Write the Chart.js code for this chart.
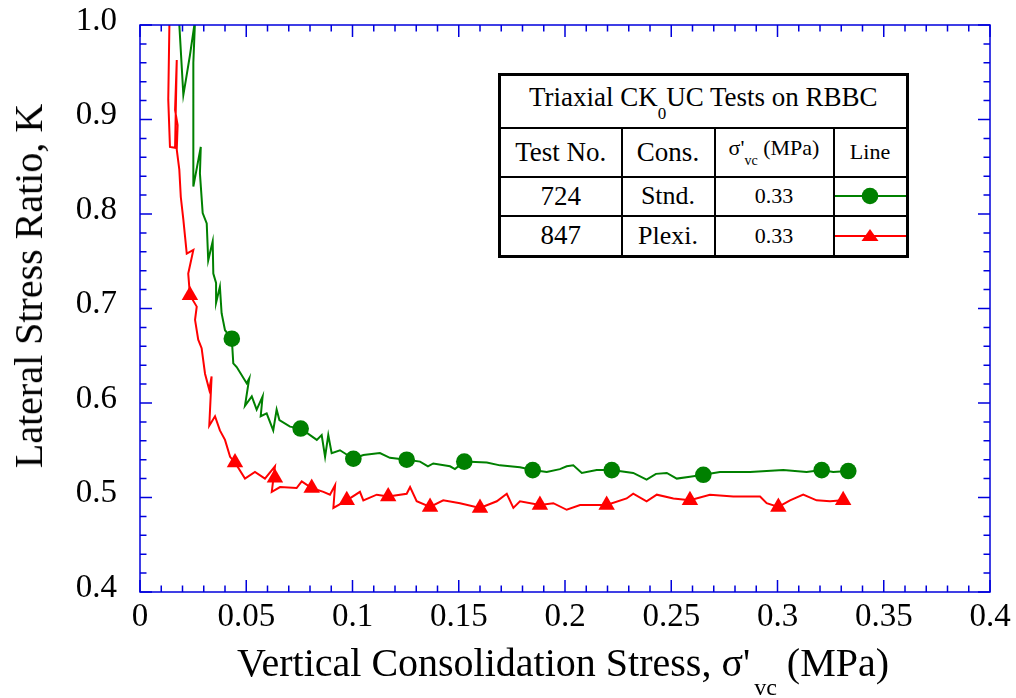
<!DOCTYPE html>
<html lang="en">
<head>
  <meta charset="UTF-8">
  <title>Lateral Stress Ratio vs Vertical Consolidation Stress</title>
  <script src="https://cdn.jsdelivr.net/npm/chart.js"></script>
  <style>
    body { margin: 0; background: #fff; }
    #wrap { position: relative; width: 1016px; height: 698px; background: #fff; font-family: "Liberation Serif", "Times New Roman", serif; color: #000; }
    #chart { position: absolute; left: 0; top: 0; }
    #ytitle { position: absolute; left: 29px; top: 286px; font-size: 40px; line-height: 40px; white-space: nowrap;
              transform: translate(-50%, -50%) rotate(-90deg); }
    #xtitle { position: absolute; left: 237px; top: 643px; font-size: 40px; line-height: 40px; white-space: nowrap; }
    #xtitle .sub { font-size: 24px; position: relative; top: 19px; margin-left: 4px; }
    #legendTable { position: absolute; left: 498px; top: 73px; border-collapse: collapse; table-layout: fixed;
                   background: #fff; border: 3px solid #000; font-family: "Liberation Serif", "Times New Roman", serif; }
    #legendTable td { border: 2px solid #000; padding: 0; text-align: center; vertical-align: middle; white-space: nowrap; line-height: 1;
                      font-family: "Liberation Serif", "Times New Roman", serif; }
    .big { font-size: 27px; }
    .mid { font-size: 26px; }
    .sm { font-size: 22px; }
    .lo0 { font-size: 17px; position: relative; top: 13px; }
    .lovc { font-size: 14px; position: relative; top: 10px; }
  </style>
</head>
<body>
<div id="wrap">
  <canvas id="chart" width="1016" height="698"></canvas>
  <div id="ytitle">Lateral Stress Ratio, K</div>
  <div id="xtitle">Vertical Consolidation Stress, σ'<span class="sub">vc</span> (MPa)</div>
  <table id="legendTable">
    <colgroup><col style="width:122px"><col style="width:93px"><col style="width:119px"><col style="width:73px"></colgroup>
    <tr style="height:53px"><td colspan="4" class="big" style="padding-bottom:8px">Triaxial CK<span class="lo0">0</span>UC Tests on RBBC</td></tr>
    <tr style="height:49px">
      <td class="big">Test No.</td><td class="big">Cons.</td>
      <td class="sm" style="padding-bottom:8px">σ'<span class="lovc">vc</span> (MPa)</td><td class="sm">Line</td>
    </tr>
    <tr style="height:39px">
      <td class="big">724</td><td class="mid">Stnd.</td><td class="sm">0.33</td>
      <td><svg width="71" height="20" style="display:block"><line x1="0" y1="10" x2="71" y2="10" stroke="#008000" stroke-width="2"/><circle cx="35" cy="10" r="8.3" fill="#008000"/></svg></td>
    </tr>
    <tr style="height:41px">
      <td class="big">847</td><td class="mid">Plexi.</td><td class="sm">0.33</td>
      <td><svg width="71" height="20" style="display:block"><line x1="0" y1="10" x2="71" y2="10" stroke="#ff0000" stroke-width="2"/><polygon points="35,3 43.5,15 26.5,15" fill="#ff0000"/></svg></td>
    </tr>
  </table>
</div>

<script>
  // Test 724 (standard cell) : [sigma'vc (MPa), K]
  const test724Line = [
    [0.0180, 1.02], [0.0204, 0.926], [0.0216, 0.942], [0.0235, 0.968], [0.0259, 1.005],
    [0.0251, 0.960], [0.0251, 0.892], [0.0251, 0.829], [0.0286, 0.871], [0.0282, 0.843],
    [0.0295, 0.801], [0.0314, 0.790], [0.0321, 0.751], [0.0342, 0.771], [0.0345, 0.737],
    [0.0358, 0.727], [0.0358, 0.706], [0.0376, 0.723], [0.0384, 0.695], [0.0400, 0.677],
    [0.0432, 0.668], [0.0439, 0.642], [0.0455, 0.638], [0.0502, 0.621], [0.0514, 0.626],
    [0.0494, 0.597], [0.0526, 0.607], [0.0549, 0.593], [0.0577, 0.607], [0.0568, 0.586],
    [0.0596, 0.589], [0.0627, 0.571], [0.0643, 0.593], [0.0656, 0.582], [0.0706, 0.575],
    [0.0756, 0.573], [0.0832, 0.561], [0.0855, 0.566], [0.0871, 0.543], [0.0886, 0.566],
    [0.0902, 0.547], [0.0941, 0.550], [0.1004, 0.541], [0.1051, 0.545], [0.1129, 0.547],
    [0.1176, 0.542], [0.1255, 0.540], [0.1318, 0.538], [0.1355, 0.533], [0.1380, 0.536],
    [0.1459, 0.533], [0.1482, 0.530], [0.1526, 0.538], [0.1632, 0.537], [0.1694, 0.534],
    [0.1788, 0.532], [0.1848, 0.529], [0.1914, 0.527], [0.1976, 0.530], [0.2008, 0.533],
    [0.2039, 0.534], [0.2079, 0.526], [0.2149, 0.529], [0.2220, 0.529], [0.2321, 0.526],
    [0.2384, 0.519], [0.2428, 0.525], [0.2479, 0.526], [0.2526, 0.520], [0.2588, 0.522],
    [0.2651, 0.524], [0.2729, 0.527], [0.2871, 0.527], [0.3027, 0.529], [0.3137, 0.527],
    [0.3208, 0.529], [0.3262, 0.527], [0.3333, 0.528]
  ];
  const test724Marks = [
    [0.0432, 0.668], [0.0756, 0.573], [0.1004, 0.541], [0.1255, 0.540], [0.1526, 0.538],
    [0.1848, 0.529], [0.2220, 0.529], [0.2651, 0.524], [0.3208, 0.529], [0.3333, 0.528]
  ];

  // Test 847 (plexiglass cell)
  const test847Line = [
    [0.0139, 1.01], [0.0133, 0.921], [0.0141, 0.871], [0.0165, 0.870], [0.0173, 0.963],
    [0.0165, 0.910], [0.0177, 0.894], [0.0173, 0.868], [0.0185, 0.847], [0.0192, 0.818],
    [0.0204, 0.794], [0.0212, 0.776], [0.0220, 0.758], [0.0251, 0.762], [0.0227, 0.737],
    [0.0235, 0.714], [0.0267, 0.702], [0.0259, 0.688], [0.0274, 0.667], [0.0290, 0.658],
    [0.0306, 0.631], [0.0326, 0.614], [0.0337, 0.628], [0.0326, 0.576], [0.0353, 0.586],
    [0.0376, 0.571], [0.0400, 0.561], [0.0424, 0.543], [0.0447, 0.537], [0.0494, 0.520],
    [0.0541, 0.527], [0.0588, 0.520], [0.0635, 0.533], [0.0620, 0.506], [0.0659, 0.511],
    [0.0737, 0.510], [0.0761, 0.517], [0.0808, 0.510], [0.0863, 0.506], [0.0894, 0.503],
    [0.0918, 0.513], [0.0910, 0.489], [0.0973, 0.497], [0.1035, 0.506], [0.1051, 0.497],
    [0.1114, 0.503], [0.1168, 0.501], [0.1255, 0.504], [0.1271, 0.511], [0.1302, 0.496],
    [0.1365, 0.490], [0.1427, 0.497], [0.1506, 0.494], [0.1600, 0.489], [0.1679, 0.496],
    [0.1726, 0.504], [0.1757, 0.489], [0.1788, 0.496], [0.1882, 0.492], [0.1945, 0.494],
    [0.2008, 0.487], [0.2071, 0.492], [0.2196, 0.492], [0.2290, 0.499], [0.2321, 0.504],
    [0.2384, 0.496], [0.2432, 0.503], [0.2510, 0.499], [0.2588, 0.497], [0.2682, 0.503],
    [0.2792, 0.501], [0.2918, 0.501], [0.2949, 0.494], [0.3004, 0.490], [0.3059, 0.497],
    [0.3121, 0.503], [0.3184, 0.497], [0.3247, 0.496], [0.3309, 0.497]
  ];
  const test847Marks = [
    [0.0235, 0.714], [0.0447, 0.537], [0.0635, 0.521], [0.0808, 0.510], [0.0973, 0.497],
    [0.1168, 0.501], [0.1365, 0.490], [0.1600, 0.489], [0.1882, 0.492], [0.2196, 0.492],
    [0.2588, 0.497], [0.3004, 0.490], [0.3309, 0.497]
  ];

  const xTickLabels = ['0', '0.05', '0.1', '0.15', '0.2', '0.25', '0.3', '0.35', '0.4'];
  const yTickLabels = ['0.4', '0.5', '0.6', '0.7', '0.8', '0.9', '1.0'];

  const axisBlue = '#0000dd';
  const green = '#008000';
  const red = '#ff0000';

  const toXY = arr => arr.map(p => ({ x: p[0], y: p[1] }));

  // frame with inward ticks on all four sides
  const frameTicks = {
    id: 'frameTicks',
    afterDatasetsDraw(chart) {
      const { ctx, chartArea: a, scales: { x, y } } = chart;
      ctx.save();
      ctx.strokeStyle = axisBlue;
      ctx.lineWidth = 1.5;
      ctx.strokeRect(a.left, a.top, a.right - a.left, a.bottom - a.top);
      ctx.beginPath();
      for (let i = 0; i <= 40; i++) {
        const px = x.getPixelForValue(i * 0.01);
        const len = i % 5 === 0 ? 12 : 6.5;
        ctx.moveTo(px, a.bottom); ctx.lineTo(px, a.bottom - len);
        ctx.moveTo(px, a.top); ctx.lineTo(px, a.top + len);
      }
      for (let i = 20; i <= 50; i++) {
        const py = y.getPixelForValue(i * 0.02);
        const len = i % 5 === 0 ? 12 : 6.5;
        ctx.moveTo(a.left, py); ctx.lineTo(a.left + len, py);
        ctx.moveTo(a.right, py); ctx.lineTo(a.right - len, py);
      }
      ctx.stroke();
      ctx.restore();
    }
  };

  const tickFont = { family: '"Liberation Serif", "Times New Roman", serif', size: 33, lineHeight: 1.2 };
  // invisible tick marks: they only reserve the gap between labels and frame
  const hiddenGrid = len => ({ display: true, drawOnChartArea: false, drawTicks: true, tickLength: len, color: 'rgba(0,0,0,0)' });

  new Chart(document.getElementById('chart'), {
    type: 'scatter',
    data: {
      datasets: [
        { label: '724 markers', data: toXY(test724Marks), showLine: false, pointStyle: 'circle',
          pointRadius: 8.3, backgroundColor: green, borderColor: green, borderWidth: 0 },
        { label: '847 markers', data: toXY(test847Marks), showLine: false, pointStyle: 'triangle',
          pointRadius: 9.5, backgroundColor: red, borderColor: red, borderWidth: 0 },
        { label: '724', data: toXY(test724Line), showLine: true, pointRadius: 0,
          borderColor: green, borderWidth: 2, tension: 0 },
        { label: '847', data: toXY(test847Line), showLine: true, pointRadius: 0,
          borderColor: red, borderWidth: 2, tension: 0 }
      ]
    },
    options: {
      responsive: false,
      animation: false,
      devicePixelRatio: 1,
      layout: { padding: { top: 25, right: 26, left: 0, bottom: 0 } },
      plugins: { legend: { display: false }, tooltip: { enabled: false } },
      scales: {
        x: {
          type: 'linear', min: 0, max: 0.4,
          grid: hiddenGrid(4),
          border: { display: false },
          afterFit: s => { s.height = 106; },
          ticks: { stepSize: 0.05, autoSkip: false, maxRotation: 0, padding: 2, color: '#000', font: tickFont,
                   callback: (v, i) => xTickLabels[i] }
        },
        y: {
          type: 'linear', min: 0.4, max: 1.0,
          grid: hiddenGrid(20),
          border: { display: false },
          afterFit: s => { s.width = 140; },
          ticks: { stepSize: 0.1, autoSkip: false, padding: 3, labelOffset: -4, color: '#000', font: tickFont,
                   callback: (v, i) => yTickLabels[i] }
        }
      }
    },
    plugins: [frameTicks]
  });
</script>
</body>
</html>
